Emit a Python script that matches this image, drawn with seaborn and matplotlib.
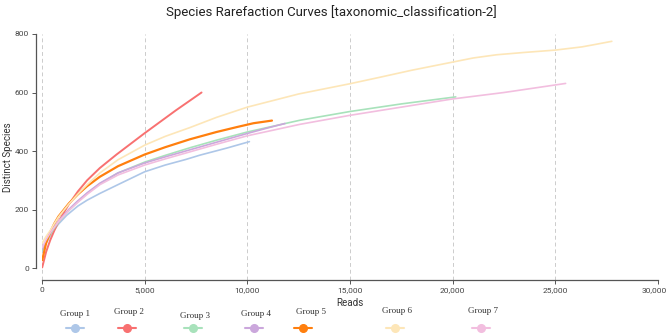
import pandas as pd
import seaborn as sns
import matplotlib.pyplot as plt
import matplotlib.transforms as mtransforms
from matplotlib.ticker import FuncFormatter

# rarefaction curves, values
groups = ["Group 1", "Group 2", "Group 3", "Group 4", "Group 5", "Group 6", "Group 7"]

reads_g1 = [10, 200, 400, 600, 800, 1200, 1750, 2200, 2820, 3700, 5000, 6000, 7000, 7700, 9000, 10100]
species_g1 = [56, 85, 110, 131, 150, 180, 212, 232, 255, 285, 329, 352, 371, 386, 410, 432]

reads_g2 = [10, 200, 400, 600, 800, 1300, 1750, 2200, 2820, 3630, 5000, 6520, 7770]
species_g2 = [2, 55, 95, 128, 158, 217, 262, 300, 342, 388, 461, 539, 600]

reads_g3 = [10, 200, 400, 600, 800, 1300, 1750, 2200, 2820, 3700, 5000, 6000, 7200, 8500,
            10000, 12550, 15000, 17500, 20150]
species_g3 = [60, 88, 115, 137, 156, 196, 227, 255, 288, 325, 362, 385, 411, 437,
              465, 505, 535, 561, 585]

reads_g4 = [10, 200, 400, 600, 800, 1300, 1750, 2200, 2820, 3700, 5000, 6000, 7200, 8500,
            10000, 11000, 11830]
species_g4 = [65, 92, 120, 142, 160, 200, 230, 257, 290, 325, 359, 380, 404, 430,
              460, 479, 494]

reads_g5 = [10, 200, 400, 600, 800, 1300, 1750, 2200, 2820, 3700, 5000, 6000, 7200, 8500,
            9500, 10300, 11200]
species_g5 = [27, 85, 122, 152, 176, 220, 252, 280, 312, 348, 388, 413, 440, 465,
              482, 495, 504]

reads_g6 = [10, 200, 400, 600, 800, 1300, 1750, 2200, 2820, 3700, 5000, 6000, 7200, 8500,
            10000, 12500, 15000, 16450, 18000, 20000, 21000, 22140, 23500, 25000, 26300,
            27000, 27750]
species_g6 = [85, 108, 128, 152, 174, 218, 253, 285, 325, 370, 420, 450, 480, 515,
              550, 595, 630, 652, 676, 704, 718, 729, 737, 745, 756, 765, 775]

reads_g7 = [10, 200, 400, 600, 800, 1300, 1750, 2200, 2820, 3700, 5000, 6000, 7200, 8500,
            10000, 12550, 15000, 17500, 20000, 22500, 25500]
species_g7 = [70, 97, 120, 140, 158, 196, 225, 252, 285, 318, 352, 373, 397, 423,
              452, 491, 522, 550, 578, 600, 631]

colors = ["#aec7e8", "#f87171", "#a8e2bb", "#cba7dc", "#ff7f0e", "#fde6b8", "#f2bedf"]

frames = []
for g, r, s in zip(groups,
                   [reads_g1, reads_g2, reads_g3, reads_g4, reads_g5, reads_g6, reads_g7],
                   [species_g1, species_g2, species_g3, species_g4, species_g5, species_g6, species_g7]):
    frames.append(pd.DataFrame({"Reads": r, "Distinct Species": s, "group": g}))
df = pd.concat(frames, ignore_index=True)

sns.set_style("ticks")
plt.rcParams["font.family"] = ["Roboto", "DejaVu Sans"]

fig = plt.figure(figsize=(6.69, 3.34), dpi=100)
ax = fig.add_axes([42 / 669, 1 - 280 / 334, 616 / 669, 246 / 334])

widths = {"Group 2": 1.4, "Group 5": 1.6}
for g, c in zip(groups, colors):
    sns.lineplot(data=df[df["group"] == g], x="Reads", y="Distinct Species",
                 color=c, lw=widths.get(g, 1.2), ax=ax, legend=False, zorder=3)

ax.set_xlim(0, 30000)
ax.set_ylim(-41, 800)
ax.set_xticks(range(0, 30001, 5000))
ax.set_yticks(range(0, 801, 200))
ax.xaxis.set_major_formatter(FuncFormatter(lambda v, p: f"{int(v):,}"))
ax.grid(axis="x", ls=(0, (4, 3)), color="#cccccc", lw=0.7)
ax.grid(axis="y", visible=False)
for s in ["top", "right"]:
    ax.spines[s].set_visible(False)
ax.spines["left"].set_position(("outward", 4.3))
ax.spines["left"].set_bounds(0, 800)
ax.spines["bottom"].set_bounds(0, 30000)
for s in ["left", "bottom"]:
    ax.spines[s].set_color("#555555")
    ax.spines[s].set_linewidth(0.9)
ax.tick_params(labelsize=6, length=3, width=0.7, color="#555555", labelcolor="#444444", pad=2)
ax.set_xlabel("Reads", fontsize=7, color="#333333", labelpad=4)
ax.set_ylabel("Distinct Species", fontsize=7, color="#333333", labelpad=1)

# keep the last x tick label inside the canvas
fig.canvas.draw()
last = ax.get_xticklabels()[-1]
last.set_transform(last.get_transform() + mtransforms.ScaledTranslation(-3 / 72, 0, fig.dpi_scale_trans))

fig.suptitle("Species Rarefaction Curves [taxonomic_classification-2]",
             x=0.495, y=0.985, fontsize=9.5, color="#222222")

# staggered legend along the bottom
leg = fig.add_axes([0, 0, 1, 1], zorder=-1)
leg.set_xlim(0, 669)
leg.set_ylim(334, 0)
leg.axis("off")
label_x = [75, 129, 195, 256, 311, 397, 483]
label_y = [314, 312, 316, 314, 312, 311, 311]
mark_x = [75, 127, 193, 254, 303, 395, 481]
for g, c, lx, ly, mx in zip(groups, colors, label_x, label_y, mark_x):
    leg.text(lx, ly, g, ha="center", va="center", fontsize=6.5,
             family=["Liberation Serif", "DejaVu Serif"], color="#333333")
    leg.plot([mx - 9, mx + 9], [328, 328], color=c, lw=1.5)
    leg.plot([mx], [328], marker="o", ms=5.5, color=c, mec=c)

fig.savefig("out.png", dpi=100)
